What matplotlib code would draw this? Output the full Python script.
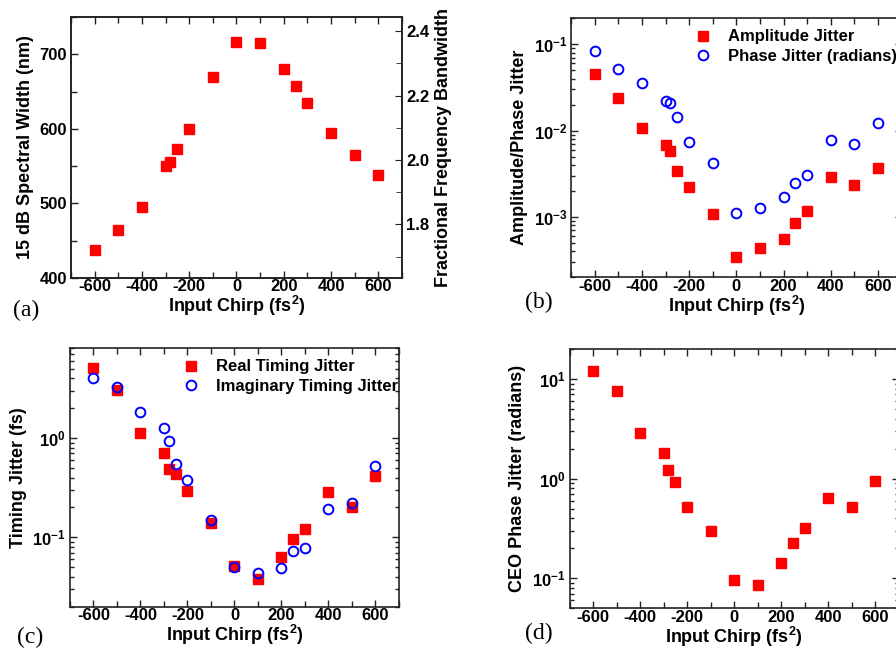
import math
import matplotlib
matplotlib.use('Agg')
import matplotlib.pyplot as plt
from matplotlib.ticker import MultipleLocator, LogLocator, FuncFormatter, NullFormatter

plt.rcParams['font.family'] = 'Liberation Sans'
plt.rcParams['font.weight'] = 'bold'
plt.rcParams['axes.labelweight'] = 'bold'
plt.rcParams['mathtext.fontset'] = 'custom'
plt.rcParams['mathtext.bf'] = 'Liberation Sans:bold'
plt.rcParams['mathtext.rm'] = 'Liberation Sans:bold'
plt.rcParams['mathtext.it'] = 'Liberation Sans:bold'
plt.rcParams['mathtext.default'] = 'bf'
plt.rcParams['axes.unicode_minus'] = False

# data
chirp = [-600, -500, -400, -300, -280, -250, -200, -100, 0, 100, 200, 250, 300, 400, 500, 600]
spectral_width = [437, 464, 495, 550, 555, 573, 600, 670, 716, 715, 680, 657, 635, 594, 565, 538]
amp_jitter = [0.0453, 0.0238, 0.0107, 0.00685, 0.00578, 0.00339, 0.00223, 0.00107,
              0.000347, 0.000432, 0.000561, 0.000852, 0.00117, 0.00294, 0.00237, 0.00367]
phase_jitter = [0.0829, 0.0522, 0.0359, 0.0222, 0.0210, 0.0145, 0.00729, 0.00424,
                0.00111, 0.00128, 0.00168, 0.00250, 0.00305, 0.00769, 0.00703, 0.0122]
real_tj = [5.08, 3.06, 1.12, 0.707, 0.485, 0.435, 0.296, 0.140,
           0.052, 0.0382, 0.063, 0.0955, 0.122, 0.283, 0.203, 0.412]
imag_tj = [4.03, 3.30, 1.84, 1.27, 0.933, 0.548, 0.382, 0.148,
           0.050, 0.0439, 0.0489, 0.0735, 0.0787, 0.194, 0.219, 0.524]
ceo_jitter = [12.1, 7.58, 2.89, 1.81, 1.22, 0.926, 0.520, 0.299,
              0.0962, 0.0851, 0.143, 0.228, 0.320, 0.645, 0.520, 0.940]

RED = '#ff0000'
BLUE = '#0000ff'
sq = dict(marker='s', ls='none', ms=7.5, color=RED, mec=RED)
circ = dict(marker='o', ls='none', ms=7, mfc='none', mec=BLUE, mew=1.4)
xlab = r'Input Chirp (fs$^{2}$)'


def logfmt(v, pos):
    e = int(round(math.log10(v)))
    return r'$10^{%d}$' % e


def style(ax, log=False):
    ax.set_xlim(-700, 700)
    ax.xaxis.set_major_locator(MultipleLocator(200))
    ax.xaxis.set_minor_locator(MultipleLocator(100))
    ax.tick_params(which='both', direction='in', top=True, right=True,
                   labelsize=12, width=1.0, color='#222222')
    ax.tick_params(which='major', length=5)
    ax.tick_params(which='minor', length=4)
    ax.tick_params(axis='x', pad=1)
    ax.tick_params(axis='y', pad=3)
    if log:
        ax.set_yscale('log')
        ax.yaxis.set_major_locator(LogLocator(base=10))
        ax.yaxis.set_minor_locator(LogLocator(base=10, subs=range(2, 10)))
        ax.yaxis.set_major_formatter(FuncFormatter(logfmt))
        ax.yaxis.set_minor_formatter(NullFormatter())
        ax.tick_params(which='minor', axis='y', length=3)
    for s in ax.spines.values():
        s.set_linewidth(1.2)
        s.set_color('#222222')
    ax.set_xlabel(xlab, fontsize=13, labelpad=0)


fig = plt.figure(figsize=(8.96, 6.5), dpi=100)

# (a)
axa = fig.add_axes([0.0792, 0.5723, 0.3694, 0.4015])
axa.plot(chirp, spectral_width, **sq)
style(axa)
axa.set_ylim(400, 750)
axa.yaxis.set_major_locator(MultipleLocator(100))
axa.yaxis.set_minor_locator(MultipleLocator(50))
axa.tick_params(right=False, which='both')
axa.set_ylabel('15 dB Spectral Width (nm)', fontsize=13)
axa2 = axa.twinx()
axa2.set_ylim(1.634, 2.4435)
axa2.yaxis.set_major_locator(MultipleLocator(0.2))
axa2.yaxis.set_minor_locator(MultipleLocator(0.1))
axa2.tick_params(which='both', direction='in', labelsize=12, color='#222222', pad=3)
axa2.tick_params(which='major', length=5)
axa2.tick_params(which='minor', length=4)
axa2.yaxis.set_major_formatter(FuncFormatter(lambda v, p: '%.1f' % v))
axa2.set_ylabel('Fractional Frequency Bandwidth', fontsize=13)
for s in axa2.spines.values():
    s.set_linewidth(1.2)
    s.set_color('#222222')

# (b)
axb = fig.add_axes([0.6376, 0.5734, 0.3686, 0.3985])
axb.plot(chirp, amp_jitter, label='Amplitude Jitter', **sq)
axb.plot(chirp, phase_jitter, label='Phase Jitter (radians)', **circ)
style(axb, log=True)
axb.set_ylim(2e-4, 0.2)
axb.set_ylabel('Amplitude/Phase Jitter', fontsize=13)
axb.legend(loc='upper left', bbox_to_anchor=(678 / 896, 1 - 21 / 650),
           bbox_transform=fig.transFigure, frameon=False,
           prop={'size': 12, 'weight': 'bold'},
           borderpad=0, labelspacing=0.25, handletextpad=0.5, numpoints=1)

# (c)
axc = fig.add_axes([0.0781, 0.0666, 0.3672, 0.3975])
axc.plot(chirp, real_tj, label='Real Timing Jitter', **sq)
axc.plot(chirp, imag_tj, label='Imaginary Timing Jitter', **circ)
style(axc, log=True)
axc.set_ylim(0.02, 8)
axc.set_ylabel('Timing Jitter (fs)', fontsize=13)
axc.legend(loc='upper left', bbox_to_anchor=(166 / 896, 1 - 351 / 650),
           bbox_transform=fig.transFigure, frameon=False,
           prop={'size': 12, 'weight': 'bold'},
           borderpad=0, labelspacing=0.25, handletextpad=0.5, numpoints=1)

# (d)
axd = fig.add_axes([0.6358, 0.0642, 0.3674, 0.3989])
axd.plot(chirp, ceo_jitter, **sq)
style(axd, log=True)
axd.set_ylim(0.05, 20)
axd.set_ylabel('CEO Phase Jitter (radians)', fontsize=13)

# panel letters
serif = dict(family='Liberation Serif', weight='normal', fontsize=17, va='center', ha='left')
fig.text(13 / 896, 1 - 310 / 650, '(a)', **serif)
fig.text(525 / 896, 1 - 302 / 650, '(b)', **serif)
fig.text(17 / 896, 1 - 637 / 650, '(c)', **serif)
fig.text(525 / 896, 1 - 633 / 650, '(d)', **serif)

fig.savefig('out.png', dpi=100)
